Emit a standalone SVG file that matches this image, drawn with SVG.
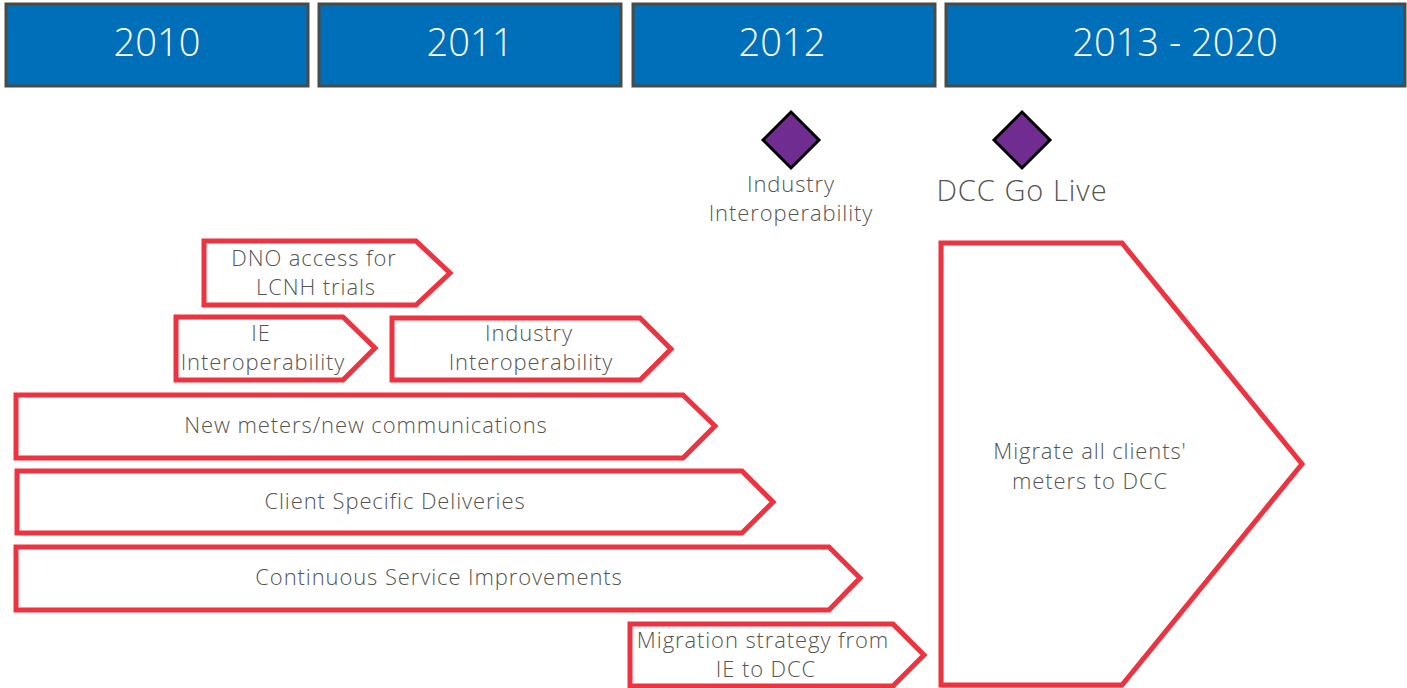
<svg xmlns="http://www.w3.org/2000/svg" width="1407" height="688" viewBox="0 0 1407 688">
<style>
.yr{fill:#006fba;stroke:#4b4b45;stroke-width:3}
.yt{font-family:"Open Sans","Liberation Sans",sans-serif;font-weight:300;font-size:38px;fill:#fff;text-anchor:middle}
.ms{fill:#702c91;stroke:#000;stroke-width:3}
.arr{fill:#fff;stroke:#ee3340;stroke-width:5}
.t{font-family:"Open Sans","Liberation Sans",sans-serif;font-weight:300;font-size:22px;letter-spacing:0.9px;fill:#555550;text-anchor:middle}
</style>
<rect width="1407" height="688" fill="#fff"/>
<g id="y2010"><rect class="yr" x="6" y="4" width="302" height="82"/><text class="yt" x="157" y="56">2010</text></g>
<g id="y2011"><rect class="yr" x="319" y="4" width="302" height="82"/><text class="yt" x="470" y="56">2011</text></g>
<g id="y2012"><rect class="yr" x="633" y="4" width="302" height="82"/><text class="yt" x="782" y="56">2012</text></g>
<g id="y2013"><rect class="yr" x="946" y="4" width="459" height="82"/><text class="yt" x="1175" y="56">2013 - 2020</text></g>
<g id="m1"><polygon class="ms" points="791,112 819,140 791,168 763,140"/><text class="t" x="791" y="192">Industry</text><text class="t" x="791" y="221">Interoperability</text></g>
<g id="m2"><polygon class="ms" points="1022,112 1050,140 1022,168 994,140"/><text class="t" x="1022" y="201" style="font-size:29px;letter-spacing:1px">DCC Go Live</text></g>
<g id="dno"><polygon class="arr" points="204,241 416,241 450,273 416,305 204,305"/><text class="t" x="314" y="266">DNO access for</text><text class="t" x="316" y="295">LCNH trials</text></g>
<g id="ie"><polygon class="arr" points="176,317 343,317 375,348 343,380 176,380"/><text class="t" x="261" y="341">IE</text><text class="t" x="263" y="370">Interoperability</text></g>
<g id="ind"><polygon class="arr" points="392,318 640,318 671,349 640,380 392,380"/><text class="t" x="529" y="341">Industry</text><text class="t" x="531" y="370">Interoperability</text></g>
<g id="nm"><polygon class="arr" points="16,395 683,395 715,426 683,458 16,458"/><text class="t" x="366" y="433">New meters/new communications</text></g>
<g id="csd"><polygon class="arr" points="17,471 742,471 773,502 742,533 17,533"/><text class="t" x="395" y="509">Client Specific Deliveries</text></g>
<g id="csi"><polygon class="arr" points="16,547 829,547 860,578 829,610 16,610"/><text class="t" x="439" y="585">Continuous Service Improvements</text></g>
<g id="mig"><polygon class="arr" points="630,624 893,624 924,655 893,686 630,686"/><text class="t" x="763" y="648">Migration strategy from</text><text class="t" x="766" y="677">IE to DCC</text></g>
<g id="dcc"><polygon class="arr" points="941,243 1122,243 1302,464 1122,685 941,685"/><text class="t" x="1090" y="459">Migrate all clients'</text><text class="t" x="1090" y="489">meters to DCC</text></g>
<g id="connectors"></g>
</svg>
